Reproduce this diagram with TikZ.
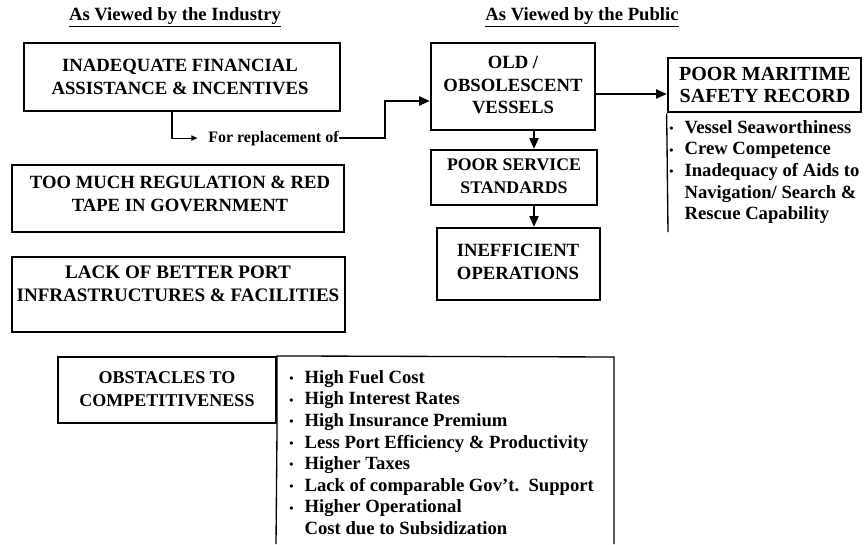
\documentclass[tikz,border=0pt]{standalone}
\usepackage{fontspec}
\setmainfont{Liberation Serif}
\usetikzlibrary{arrows.meta,fit}
\newcommand{\bul}{\makebox[11.5pt][l]{\raisebox{0.5pt}{\small\textbullet}}}
\newcommand{\ind}{\hspace*{11.5pt}}
\begin{document}
\begin{tikzpicture}[x=0.75pt,y=-0.75pt,
  mainbox/.style={draw, line width=2pt, inner sep=0pt},
  thinbox/.style={line width=1pt},
  boxtext/.style={font=\bfseries\fontsize{#1}{17}\selectfont, align=center, inner sep=0pt},
  boxtext/.default=14,
  listtext/.style={font=\bfseries\fontsize{14}{16.2}\selectfont, align=left, inner sep=0pt, anchor=north west},
  heading/.style={font=\bfseries\fontsize{14}{16}\selectfont, inner sep=0pt},
  arr/.style={line width=0.9pt, -{Triangle[length=8pt,width=7pt]}},
  smallarr/.style={line width=0.8pt, -{Triangle[length=4.5pt,width=4pt]}}]
\useasboundingbox (0,0) rectangle (865,544);

% column headings
\node[heading] (hind) at (175,17) {\underline{As Viewed by the Industry}};
\node[heading] (hpub) at (582,17) {\underline{As Viewed by the Public}};

% industry side
\node[mainbox, fit={(24,43) (340,111)}] (fin) {};
\node[boxtext] (fintxt) at (180,77) {INADEQUATE FINANCIAL\\ASSISTANCE \& INCENTIVES};

\node[mainbox, fit={(12,165) (344,232)}] (reg) {};
\node[boxtext] (regtxt) at (180,194) {TOO MUCH REGULATION \& RED\\TAPE IN GOVERNMENT};

\node[mainbox, fit={(12,257) (345,332)}] (port) {};
\node[boxtext={14.3}] (porttxt) at (178,284) {LACK OF BETTER PORT\\INFRASTRUCTURES \& FACILITIES};

% public side
\node[mainbox, fit={(431,43) (595,130)}] (old) {};
\node[boxtext] (oldtxt) at (513,85) {OLD /\\OBSOLESCENT\\VESSELS};

\node[mainbox, fit={(431,150) (597,205)}] (svc) {};
\node[boxtext={13.3}] (svctxt) at (514,176) {POOR SERVICE\\STANDARDS};

\node[mainbox, fit={(437,228) (600,300)}] (ineff) {};
\node[boxtext] (inefftxt) at (518,262) {INEFFICIENT\\OPERATIONS};

\node[mainbox, fit={(668,58) (861,112)}] (mar) {};
\node[boxtext={15}] (martxt) at (765,85) {POOR MARITIME\\SAFETY RECORD};

% safety factors
\coordinate (safetyend) at (668,232);
\draw[thinbox] (mar.south west) -- (safetyend);
\node[listtext] (safety) at (669,120) {\bul Vessel Seaworthiness\\\bul Crew Competence\\\bul Inadequacy of Aids to\\\ind Navigation/ Search \&\\\ind Rescue Capability};

% replacement connector
\node[font=\bfseries\fontsize{12}{14}\selectfont, inner sep=0pt, anchor=base west] (rep) at (208,142) {For replacement of};
\coordinate (drop) at (172,0);
\coordinate (bend) at (385,101);
\draw[smallarr] (fin.south -| drop) |- ([xshift=-8pt]rep.west);
\draw[arr] (rep.east) -| (bend) -- (bend -| old.west);

\coordinate (down1) at (534,0);
\draw[arr] (old.south -| down1) -- (svc.north -| down1);
\draw[arr] (svc.south -| down1) -- (ineff.north -| down1);
\coordinate (right1) at (0,94);
\draw[arr] (old.east |- right1) -- (mar.west |- right1);

% obstacles
\node[draw, line width=1.6pt, inner sep=0pt, fit={(58,357) (276,423)}] (obst) {};
\node[boxtext={13.5}] (obsttxt) at (167,389) {OBSTACLES TO\\COMPETITIVENESS};
\coordinate (lbl) at (276,544);
\coordinate (ltr) at (614,357);
\coordinate (lbr) at (614,544);
\draw[thinbox] (lbl) -- (obst.south east) -- (obst.north east) -- (ltr) -- (lbr);
\node[listtext] (costs) at (289,370) {\bul High Fuel Cost\\\bul High Interest Rates\\\bul High Insurance Premium\\\bul Less Port Efficiency \& Productivity\\\bul Higher Taxes\\\bul Lack of comparable Gov't.\ \ Support\\\bul Higher Operational\\\ind Cost due to Subsidization};
\end{tikzpicture}
\end{document}
